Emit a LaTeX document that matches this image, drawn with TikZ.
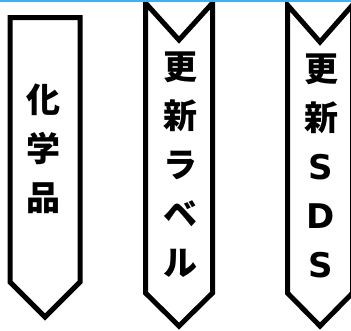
\documentclass[tikz,border=0pt]{standalone}
\usepackage{fontspec}
\newfontfamily\jp{Noto Sans CJK JP}
\newfontfamily\lat{DejaVu Sans}
\definecolor{topblue}{RGB}{64,176,240}
\begin{document}
\begin{tikzpicture}[x=1pt,y=-1pt,
  tag/.style={draw=black,line width=5pt,line join=miter,fill=white},
  label/.style={align=center,inner sep=0pt,font=\jp\bfseries\fontsize{34}{49}\selectfont}]
\useasboundingbox (0,0) rectangle (351,330);
\begin{scope}
\clip (0,0) rectangle (351,330);
\draw[tag] (10,17.5) -- (80,17.5) -- (80,282) -- (45,317) -- (10,282) -- cycle;
\draw[tag] (145.5,3) -- (179,40) -- (212.5,3) -- (212.5,293) -- (179,326) -- (145.5,293) -- cycle;
\draw[tag] (287.5,5) -- (320,42) -- (352.5,5) -- (352.5,293) -- (320,326) -- (287.5,293) -- cycle;
\node[label] (t1) at (44,149) {化\\学\\品};
\node[label] (t2) at (180,164.5) {更\\新\\ラ\\ベ\\ル};
\node[label] (t3) at (321,165.5) {更\\新\\{\lat\bfseries S}\\{\lat\bfseries D}\\{\lat\bfseries S}};
\draw[topblue,line width=2pt] (0,1) -- (351,1);
\end{scope}
\end{tikzpicture}
\end{document}
